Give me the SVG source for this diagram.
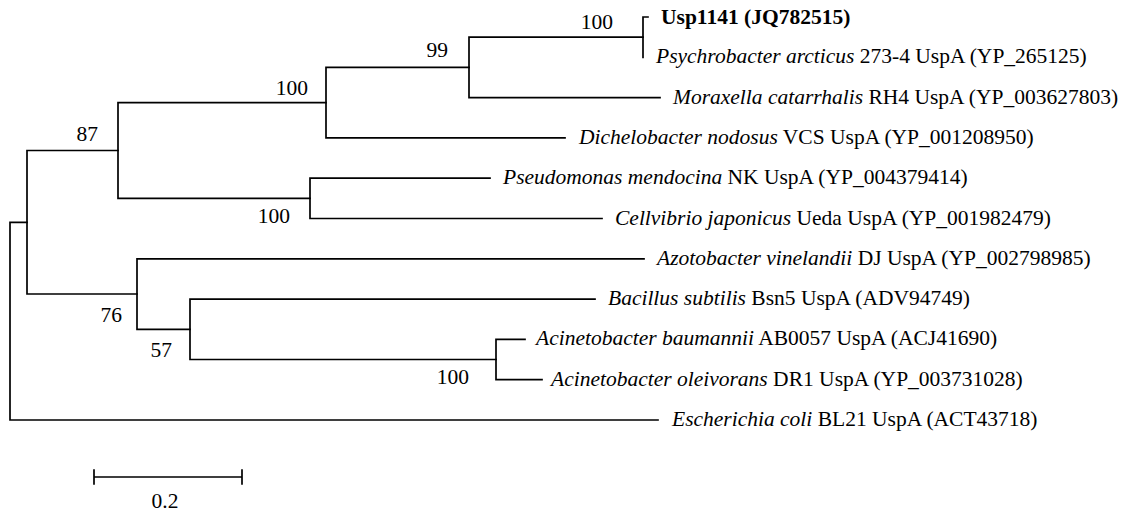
<svg xmlns="http://www.w3.org/2000/svg" width="1128" height="511" viewBox="0 0 1128 511">
<style>
.br{stroke:#000;stroke-width:1.7;fill:none;stroke-linecap:square}
text{font-family:"Liberation Serif","Times New Roman",serif;font-size:21.5px;fill:#000}
.it{font-style:italic}
.bs{text-anchor:end}
.b{font-weight:bold}
</style>
<rect width="1128" height="511" fill="#fff"/>
<g id="connectors" class="br">
<path d="M10 222.3V420M10 222.3H27M10 420H658"/>
<path d="M27 150.5V294M27 150.5H118M27 294H137"/>
<path d="M118 102.6V198.4M118 102.6H326M118 198.4H310"/>
<path d="M326 67.4V137.9M326 67.4H469M326 137.9H565"/>
<path d="M469 37.2V97.6M469 37.2H643M469 97.6H660"/>
<path d="M643 17V57.3M643 17H648"/>
<path d="M310 178.2V218.5M310 178.2H490M310 218.5H602"/>
<path d="M137 258.8V329.3M137 258.8H644M137 329.3H190"/>
<path d="M190 299.1V359.5M190 299.1H595M190 359.5H496"/>
<path d="M496 339.4V379.7M496 339.4H525M496 379.7H542"/>
<path d="M94 477H242M94 470V484M242 470V484"/>
</g>
<g id="leaf-usp1141"><text x="661" y="24" class="b">Usp1141 (JQ782515)</text></g>
<g id="leaf-psychrobacter"><text x="656" y="62.5"><tspan class="it">Psychrobacter arcticus</tspan> 273-4 UspA (YP_265125)</text></g>
<g id="leaf-moraxella"><text x="673" y="103.6"><tspan class="it">Moraxella catarrhalis</tspan> RH4 UspA (YP_003627803)</text></g>
<g id="leaf-dichelobacter"><text x="579" y="143.9"><tspan class="it">Dichelobacter nodosus</tspan> VCS UspA (YP_001208950)</text></g>
<g id="leaf-pseudomonas"><text x="503" y="184.2"><tspan class="it">Pseudomonas mendocina</tspan> NK UspA (YP_004379414)</text></g>
<g id="leaf-cellvibrio"><text x="615" y="224.5"><tspan class="it">Cellvibrio japonicus</tspan> Ueda UspA (YP_001982479)</text></g>
<g id="leaf-azotobacter"><text x="657" y="264.8"><tspan class="it">Azotobacter vinelandii</tspan> DJ UspA (YP_002798985)</text></g>
<g id="leaf-bacillus"><text x="608" y="305.1"><tspan class="it">Bacillus subtilis</tspan> Bsn5 UspA (ADV94749)</text></g>
<g id="leaf-acinetobacter-baumannii"><text x="536" y="345.4"><tspan class="it">Acinetobacter baumannii</tspan> AB0057 UspA (ACJ41690)</text></g>
<g id="leaf-acinetobacter-oleivorans"><text x="551" y="385.7"><tspan class="it">Acinetobacter oleivorans</tspan> DR1 UspA (YP_003731028)</text></g>
<g id="leaf-escherichia"><text x="672" y="426"><tspan class="it">Escherichia coli</tspan> BL21 UspA (ACT43718)</text></g>
<g id="bs-usp"><text x="613" y="29" class="bs">100</text></g>
<g id="bs-99"><text x="448" y="57" class="bs">99</text></g>
<g id="bs-moraxella-clade"><text x="308" y="95" class="bs">100</text></g>
<g id="bs-87"><text x="98" y="141" class="bs">87</text></g>
<g id="bs-pseudomonas-clade"><text x="290" y="223" class="bs">100</text></g>
<g id="bs-76"><text x="122" y="322" class="bs">76</text></g>
<g id="bs-57"><text x="172" y="357" class="bs">57</text></g>
<g id="bs-acinetobacter"><text x="469" y="384" class="bs">100</text></g>
<g id="scale-label"><text x="165" y="508" text-anchor="middle">0.2</text></g>
</svg>
